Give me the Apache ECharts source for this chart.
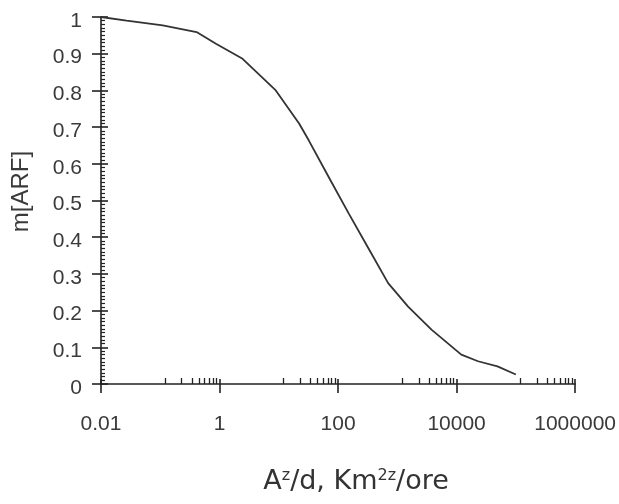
<!DOCTYPE html>
<html>
<head>
<meta charset="utf-8">
<script src="https://cdn.jsdelivr.net/npm/echarts@6/dist/echarts.min.js"></script>
<style>
html,body{margin:0;padding:0;background:#fff;}
#c{width:619px;height:504px;}
</style>
</head>
<body>
<div id="c"></div>
<script>
// Data
var xValues = [0.01, 0.027, 0.11, 0.41, 0.87, 2.45, 8.9, 22, 32, 74, 151, 325, 700, 1520, 3770, 12000, 23000, 49000, 100000];
var yValues = [1.0, 0.99, 0.977, 0.959, 0.927, 0.886, 0.80, 0.71, 0.664, 0.556, 0.465, 0.37, 0.275, 0.211, 0.148, 0.08, 0.062, 0.048, 0.026];
var xTickLabels = ['0.01', '1', '100', '10000', '1000000'];
var yTickLabels = ['0', '0.1', '0.2', '0.3', '0.4', '0.5', '0.6', '0.7', '0.8', '0.9', '1'];

var points = xValues.map(function (x, i) { return [x, yValues[i]]; });
var font = 'Liberation Sans, Arial, sans-serif';
var titleFont = 'DejaVu Sans, sans-serif';
var axisColor = '#222';
var textColor = '#3a3a3a';

var chart = echarts.init(document.getElementById('c'), null, {renderer: 'canvas'});
chart.setOption({
  backgroundColor: '#fff',
  animation: false,
  grid: {left: 101, right: 41, top: 17, bottom: 120, containLabel: false},
  xAxis: [{
    type: 'log', logBase: 100, min: 0.01, max: 1000000,
    position: 'bottom',
    axisLine: {show: true, onZero: false, lineStyle: {color: axisColor, width: 1.6}},
    axisTick: {show: true, inside: false, length: 9, lineStyle: {color: axisColor, width: 1.6}},
    minorTick: {show: false},
    splitLine: {show: false},
    axisLabel: {
      margin: 30, fontSize: 21, fontFamily: font, color: textColor,
      formatter: function (v) {
        var e = Math.round(Math.log10(v));
        var idx = (e + 2) / 2;
        return xTickLabels[idx] !== undefined ? xTickLabels[idx] : '';
      }
    },
    name: '{b|A}{s|z}{b|/d, Km}{s|2z}{b|/ore}',
    nameLocation: 'middle', nameGap: 84,
    nameTextStyle: {
      padding: [0, 0, 0, 36],
      rich: {
        b: {fontSize: 27, fontFamily: titleFont, color: '#333'},
        s: {fontSize: 16, fontFamily: titleFont, color: '#333', verticalAlign: 'top', padding: [0, 0, 12, 0]}
      }
    }
  }, {
    type: 'log', logBase: 100, min: 0.01, max: 1000000,
    position: 'bottom', gridIndex: 0,
    axisLine: {show: false, onZero: false},
    axisTick: {show: true, inside: true, length: 5, lineStyle: {color: axisColor, width: 1.6}},
    minorTick: {show: true, splitNumber: 9, length: 6, lineStyle: {color: axisColor, width: 1.3}},
    splitLine: {show: false},
    axisLabel: {show: false}
  }],
  yAxis: [{
    type: 'value', min: 0, max: 1, interval: 0.1,
    position: 'left',
    axisLine: {show: true, onZero: false, lineStyle: {color: axisColor, width: 1.6}},
    axisTick: {show: true, inside: false, length: 9, lineStyle: {color: axisColor, width: 1.6}},
    splitLine: {show: false},
    axisLabel: {
      margin: 19,
      formatter: function (v) { return '{a|' + yTickLabels[Math.round(v * 10)] + '}'; },
      rich: {
        a: {fontSize: 21, fontFamily: font, color: textColor, padding: [8, 0, 0, 0]}
      }
    },
    name: 'm[ARF]', nameLocation: 'middle', nameGap: 68, nameRotate: 90,
    nameTextStyle: {fontSize: 24, fontFamily: font, color: textColor, padding: [0, 0, 0, 18]}
  }, {
    type: 'value', min: 0, max: 1, interval: 0.1,
    position: 'left', gridIndex: 0,
    axisLine: {show: false, onZero: false},
    axisTick: {show: true, inside: true, length: 7, lineStyle: {color: axisColor, width: 1.6}},
    minorTick: {show: true, splitNumber: 10, length: 4, lineStyle: {color: axisColor, width: 1.2}},
    splitLine: {show: false},
    axisLabel: {show: false}
  }],
  series: [{
    type: 'line',
    data: points,
    xAxisIndex: 0, yAxisIndex: 0,
    showSymbol: false, symbol: 'none',
    smooth: false,
    lineStyle: {color: '#333', width: 1.8}
  }]
});
</script>
</body>
</html>
